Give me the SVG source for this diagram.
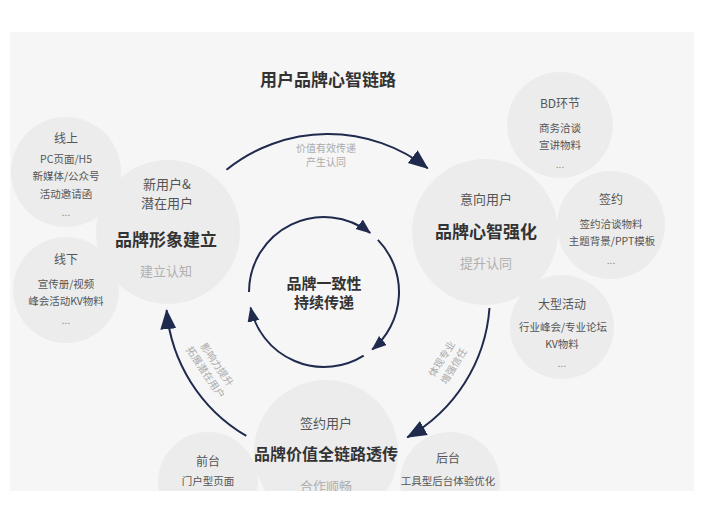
<svg xmlns="http://www.w3.org/2000/svg" width="704" height="528" viewBox="0 0 704 528">
<style>
text{font-family:"Noto Sans CJK SC","Noto Sans",sans-serif;text-anchor:middle;dominant-baseline:central}
.bg{fill:#f6f6f6}
.c{fill:#ececec}
.title{font-size:17px;font-weight:bold;fill:#333}
.main{font-size:16px;font-weight:bold;fill:#333}
.sub{font-size:13px;fill:#555}
.lite{font-size:13px;fill:#b0b0b0}
.st{font-size:12px;fill:#555}
.si{font-size:10.5px;fill:#555}
.dots{font-size:10px;fill:#888}
.lbl{font-size:10px;fill:#aaa}
.arc{fill:none;stroke:#1f2a4d;stroke-width:2}
</style>
<defs>
<clipPath id="panel"><rect x="10" y="32" width="684" height="459"/></clipPath>
<marker id="big" markerUnits="userSpaceOnUse" markerWidth="22" markerHeight="18" refX="19" refY="8" orient="auto">
<path d="M0,0 L20,8 L0,16 z" fill="#1f2a4d"/>
</marker>
<marker id="small" markerUnits="userSpaceOnUse" markerWidth="16" markerHeight="14" refX="14" refY="6" orient="auto">
<path d="M0,0 L15,6 L0,12 z" fill="#1f2a4d"/>
</marker>
</defs>
<rect width="704" height="528" fill="#fff"/>
<rect class="bg" x="10" y="32" width="684" height="459"/>
<text class="title" x="328" y="78">用户品牌心智链路</text>
<g clip-path="url(#panel)">
<g id="online">
<circle class="c" cx="66" cy="172" r="55"/>
<text class="st" x="66" y="137">线上</text>
<text class="si" x="66" y="158">PC页面/H5</text>
<text class="si" x="66" y="175">新媒体/公众号</text>
<text class="si" x="66" y="193">活动邀请函</text>
<text class="dots" x="66" y="211">...</text>
</g>
<g id="offline">
<circle class="c" cx="66" cy="290" r="53"/>
<text class="st" x="66" y="258">线下</text>
<text class="si" x="66" y="283">宣传册/视频</text>
<text class="si" x="66" y="300">峰会活动KV物料</text>
<text class="dots" x="66" y="319">...</text>
</g>
<g id="build">
<circle class="c" cx="168" cy="232" r="72"/>
<text class="sub" x="167" y="183">新用户&amp;</text>
<text class="sub" x="167" y="202">潜在用户</text>
<text class="main" x="166" y="238" style="font-size:17px">品牌形象建立</text>
<text class="lite" x="166" y="270">建立认知</text>
</g>
<g id="bd">
<circle class="c" cx="560" cy="125" r="53"/>
<text class="st" x="560" y="102">BD环节</text>
<text class="si" x="560" y="127">商务洽谈</text>
<text class="si" x="560" y="144">宣讲物料</text>
<text class="dots" x="560" y="163">...</text>
</g>
<g id="sign">
<circle class="c" cx="611" cy="225" r="54"/>
<text class="st" x="611" y="198">签约</text>
<text class="si" x="611" y="223">签约洽谈物料</text>
<text class="si" x="612" y="240">主题背景/PPT模板</text>
<text class="dots" x="611" y="259">...</text>
</g>
<g id="event">
<circle class="c" cx="562" cy="327" r="52"/>
<text class="st" x="562" y="303">大型活动</text>
<text class="si" x="563" y="326">行业峰会/专业论坛</text>
<text class="si" x="562" y="343">KV物料</text>
<text class="dots" x="562" y="362">...</text>
</g>
<g id="strengthen">
<circle class="c" cx="485" cy="232" r="73"/>
<text class="sub" x="486" y="198">意向用户</text>
<text class="main" x="486" y="230" style="font-size:17px">品牌心智强化</text>
<text class="lite" x="486" y="262">提升认同</text>
</g>
<g id="front">
<circle class="c" cx="208" cy="482" r="50"/>
<text class="st" x="208" y="460">前台</text>
<text class="si" x="208" y="480">门户型页面</text>
</g>
<g id="back">
<circle class="c" cx="450" cy="482" r="50"/>
<text class="st" x="448" y="457">后台</text>
<text class="si" x="448" y="480">工具型后台体验优化</text>
</g>
<g id="transmit">
<circle class="c" cx="326" cy="452" r="72"/>
<text class="sub" x="326" y="422">签约用户</text>
<text class="main" x="326" y="453">品牌价值全链路透传</text>
<text class="lite" x="326" y="485">合作顺畅</text>
</g>
</g>
<g id="center">
<text class="main" x="324" y="282" style="font-size:15px">品牌一致性</text>
<text class="main" x="324" y="301" style="font-size:15px">持续传递</text>
</g>
<g id="connectors">
<path class="arc" d="M226.5 169.8 A162 162 0 0 1 427.7 168.3" marker-end="url(#big)"/>
<path class="arc" d="M489.5 308 A162 162 0 0 1 407.3 437.3" marker-end="url(#big)"/>
<path class="arc" d="M246.3 435.9 A162 162 0 0 1 166.6 310.1" marker-end="url(#big)"/>
<path class="arc" d="M249 292 A75 75 0 0 1 370.2 232.9" marker-end="url(#small)"/>
<path class="arc" d="M377.9 239.9 A75 75 0 0 1 372.2 349.5" marker-end="url(#small)"/>
<path class="arc" d="M363.7 355.6 A75 75 0 0 1 250.6 307.6" marker-end="url(#small)"/>
<text class="lbl" x="326" y="147">价值有效传递</text>
<text class="lbl" x="326" y="161">产生认同</text>
<g transform="translate(212 368) rotate(56)">
<text class="lbl" x="0" y="-7">影响力提升</text>
<text class="lbl" x="0" y="7">拓展潜在用户</text>
</g>
<g transform="translate(447 362) rotate(-58)">
<text class="lbl" x="0" y="-7">体现专业</text>
<text class="lbl" x="0" y="7">增强信任</text>
</g>
</g>
</svg>
